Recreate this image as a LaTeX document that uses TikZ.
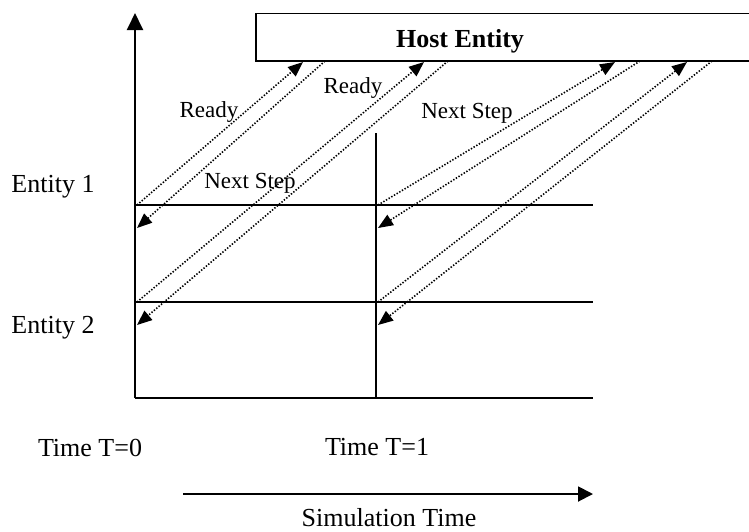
\documentclass[tikz,border=0pt]{standalone}
\usepackage{fontspec}
\setmainfont{Liberation Serif}
\usetikzlibrary{arrows.meta}
\begin{document}
\begin{tikzpicture}[x=1pt,y=-1pt,
  axis/.style={line width=1.9pt},
  msg/.style={line width=1.6pt, dash pattern=on 1.4pt off 1.7pt, -{Triangle[length=15pt,width=12pt]}},
  lbl/.style={font=\fontsize{26}{30}\selectfont, inner sep=0pt, anchor=base},
  albl/.style={font=\fontsize{23}{27}\selectfont, inner sep=0pt, anchor=base}]
\useasboundingbox (0,0) rectangle (749,531);

% host entity box (open to the right edge)
\draw[axis] (749,13.5) -- (256,13.5) -- (256,61) -- (749,61);
\node[lbl, font=\fontsize{26}{30}\selectfont\bfseries] (host) at (460,47) {Host Entity};

% axes and grid
\coordinate (O) at (135,398);
\coordinate (ytop) at (135,13);
\coordinate (xend) at (593,398);
\coordinate (e1a) at (135,205);
\coordinate (e1b) at (593,205);
\coordinate (e2a) at (135,302);
\coordinate (e2b) at (593,302);
\coordinate (t1top) at (376,133);
\coordinate (t1bot) at (376,398);
\draw[axis,-{Triangle[length=17pt,width=16pt]}] (O) -- (ytop);
\draw[axis] (O) -- (xend);
\draw[axis] (e1a) -- (e1b);
\draw[axis] (e2a) -- (e2b);
\draw[axis] (t1top) -- (t1bot);

% message end points
\coordinate (a1s) at (137,205);  \coordinate (a1e) at (303,62);
\coordinate (b1s) at (325,61);   \coordinate (b1e) at (137,228);
\coordinate (a2s) at (137,302);  \coordinate (a2e) at (424,62);
\coordinate (b2s) at (448,61);   \coordinate (b2e) at (137,325);
\coordinate (a3s) at (378,205);  \coordinate (a3e) at (615,62);
\coordinate (b3s) at (640,61);   \coordinate (b3e) at (378,228);
\coordinate (a4s) at (378,302);  \coordinate (a4e) at (687,62);
\coordinate (b4s) at (712,61);   \coordinate (b4e) at (378,325);

\draw[msg] (a1s) -- (a1e);
\draw[msg] (b1s) -- (b1e);
\draw[msg] (a2s) -- (a2e);
\draw[msg] (b2s) -- (b2e);
\draw[msg] (a3s) -- (a3e);
\draw[msg] (b3s) -- (b3e);
\draw[msg] (a4s) -- (a4e);
\draw[msg] (b4s) -- (b4e);

% message labels
\node[albl] (r1) at (209,117) {Ready};
\node[albl] (r2) at (353,93) {Ready};
\node[albl] (n1) at (250,188) {Next Step};
\node[albl] (n2) at (467,118) {Next Step};

% entity and time labels
\node[lbl] (ent1) at (53,192) {Entity 1};
\node[lbl] (ent2) at (53,333) {Entity 2};
\node[lbl] (time0) at (90,456) {Time T=0};
\node[lbl] (time1) at (377,455) {Time T=1};

% simulation time arrow
\coordinate (sa) at (183,494);
\coordinate (sb) at (593,494);
\draw[axis,-{Triangle[length=15pt,width=15pt]}] (sa) -- (sb);
\node[lbl] (simt) at (389,526) {Simulation Time};
\end{tikzpicture}
\end{document}
